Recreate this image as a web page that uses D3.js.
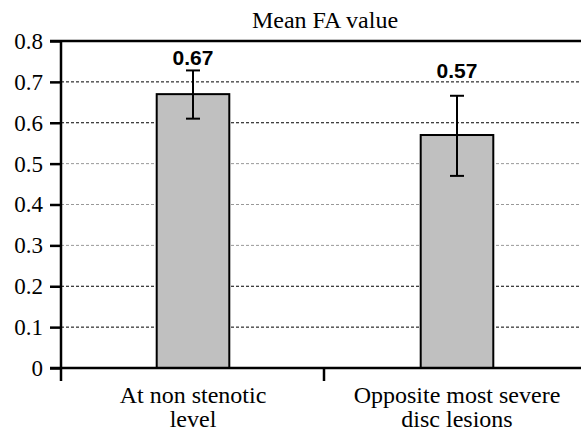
<!DOCTYPE html>
<html lang="en">
	<head>
		<meta charset="utf-8">
		<title>Mean FA value</title>
		<script type="text/javascript" src="https://d3js.org/d3.v7.min.js"></script>
		<style type="text/css">
			body { margin: 0; background: #fff; }
		</style>
	</head>
	<body>
		<script type="text/javascript">

			//Data
			var categories = [["At non stenotic", "level"], ["Opposite most severe", "disc lesions"]];
			var means = [0.67, 0.57];
			var upper = [0.728, 0.666];
			var lower = [0.61, 0.47];
			var valueLabels = ["0.67", "0.57"];
			var yTicks = [0, 0.1, 0.2, 0.3, 0.4, 0.5, 0.6, 0.7, 0.8];
			var darkGrid = [0.1, 0.2, 0.6, 0.7];

			//Width and height
			var w = 581;
			var h = 431;
			var serif = "'Liberation Serif', 'Times New Roman', 'DejaVu Serif', serif";
			var sans = "'Liberation Sans', Arial, sans-serif";

			var xScale = d3.scaleBand()
							.domain(d3.range(categories.length))
							.range([61, 589]);

			var yScale = d3.scaleLinear()
							.domain([0, 0.8])
							.range([368, 41]);

			var barW = xScale.bandwidth() * 0.275;

			var svg = d3.select("body")
						.append("svg")
						.attr("width", w)
						.attr("height", h);

			//Title
			svg.append("text")
			   .attr("x", 325)
			   .attr("y", 28)
			   .attr("text-anchor", "middle")
			   .style("font-family", serif)
			   .style("font-size", "24px")
			   .text("Mean FA value");

			//Grid lines
			svg.selectAll("line.grid")
			   .data(yTicks.filter(function(d) { return d > 0 && d < 0.8; }))
			   .enter()
			   .append("line")
			   .attr("class", "grid")
			   .attr("x1", 61)
			   .attr("x2", w)
			   .attr("y1", function(d) { return yScale(d); })
			   .attr("y2", function(d) { return yScale(d); })
			   .attr("stroke", function(d) { return darkGrid.indexOf(d) >= 0 ? "#000" : "#999"; })
			   .attr("stroke-width", 1)
			   .attr("stroke-dasharray", "3,2");

			//Top border
			svg.append("line")
			   .attr("x1", 50).attr("x2", w)
			   .attr("y1", yScale(0.8)).attr("y2", yScale(0.8))
			   .attr("stroke", "#000").attr("stroke-width", 2.5);

			//Bars
			svg.selectAll("rect.bar")
			   .data(means)
			   .enter()
			   .append("rect")
			   .attr("class", "bar")
			   .attr("x", function(d, i) { return xScale(i) + xScale.bandwidth() / 2 - barW / 2; })
			   .attr("y", function(d) { return yScale(d); })
			   .attr("width", barW)
			   .attr("height", function(d) { return yScale(0) - yScale(d); })
			   .attr("fill", "#c0c0c0")
			   .attr("stroke", "#000")
			   .attr("stroke-width", 2);

			//Error bars
			var err = svg.selectAll("g.err")
						 .data(means)
						 .enter()
						 .append("g")
						 .attr("class", "err")
						 .attr("transform", function(d, i) { return "translate(" + (xScale(i) + xScale.bandwidth() / 2) + ",0)"; });

			err.append("line")
			   .attr("x1", 0).attr("x2", 0)
			   .attr("y1", function(d, i) { return yScale(upper[i]); })
			   .attr("y2", function(d, i) { return yScale(lower[i]); })
			   .attr("stroke", "#000").attr("stroke-width", 2);

			err.append("line")
			   .attr("x1", -7).attr("x2", 7)
			   .attr("y1", function(d, i) { return yScale(upper[i]); })
			   .attr("y2", function(d, i) { return yScale(upper[i]); })
			   .attr("stroke", "#000").attr("stroke-width", 2);

			err.append("line")
			   .attr("x1", -7).attr("x2", 7)
			   .attr("y1", function(d, i) { return yScale(lower[i]); })
			   .attr("y2", function(d, i) { return yScale(lower[i]); })
			   .attr("stroke", "#000").attr("stroke-width", 2);

			//Value labels
			err.append("text")
			   .attr("x", 0)
			   .attr("y", function(d, i) { return i === 0 ? yScale(upper[i]) - 5 : yScale(0.71); })
			   .attr("text-anchor", "middle")
			   .style("font-family", sans)
			   .style("font-size", "21px")
			   .style("font-weight", "bold")
			   .text(function(d, i) { return valueLabels[i]; });

			//Y axis
			var yAxis = d3.axisLeft(yScale)
						  .tickValues(yTicks)
						  .tickFormat(function(d) { return d === 0 ? "0" : d3.format(".1f")(d); })
						  .tickSize(11)
						  .tickPadding(7);

			var gy = svg.append("g")
						.attr("transform", "translate(61,0)")
						.call(yAxis);
			gy.select(".domain").remove();
			gy.selectAll(".tick line").attr("stroke", "#000").attr("stroke-width", 2.5);
			gy.selectAll(".tick text")
			  .attr("fill", "#000")
			  .style("font-family", serif)
			  .style("font-size", "23px");

			svg.append("line")
			   .attr("x1", 61).attr("x2", 61)
			   .attr("y1", yScale(0.8) - 1).attr("y2", 381)
			   .attr("stroke", "#000").attr("stroke-width", 2.5);

			//X axis
			svg.append("line")
			   .attr("x1", 50).attr("x2", w)
			   .attr("y1", yScale(0)).attr("y2", yScale(0))
			   .attr("stroke", "#000").attr("stroke-width", 2.5);

			svg.selectAll("line.sep")
			   .data(d3.range(1, categories.length))
			   .enter()
			   .append("line")
			   .attr("class", "sep")
			   .attr("x1", function(d) { return xScale(d) - 1; })
			   .attr("x2", function(d) { return xScale(d) - 1; })
			   .attr("y1", yScale(0))
			   .attr("y2", 381)
			   .attr("stroke", "#000").attr("stroke-width", 2.5);

			var xl = svg.selectAll("text.xlab")
						.data(categories)
						.enter()
						.append("text")
						.attr("class", "xlab")
						.attr("text-anchor", "middle")
						.style("font-family", serif)
						.style("font-size", "24px");

			xl.selectAll("tspan")
			  .data(function(d, i) { return d.map(function(s) { return { s: s, i: i }; }); })
			  .enter()
			  .append("tspan")
			  .attr("x", function(d) { return xScale(d.i) + xScale.bandwidth() / 2; })
			  .attr("y", function(d, j) { return 403 + j * 24; })
			  .text(function(d) { return d.s; });

		</script>
	</body>
</html>
